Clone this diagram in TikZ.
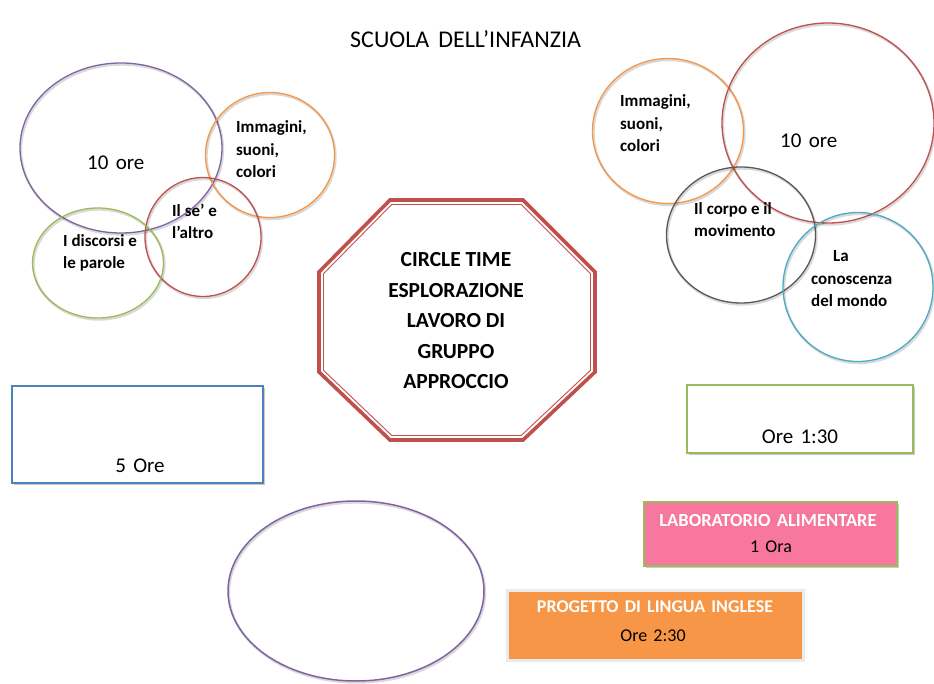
\documentclass[tikz,border=0pt]{standalone}
\usepackage{fontspec}
\setmainfont{Carlito}
\usetikzlibrary{shapes.geometric,shadows}
\definecolor{opurple}{HTML}{8064A2}
\definecolor{oorange}{HTML}{F79646}
\definecolor{ored}{HTML}{C0504D}
\definecolor{ogreen}{HTML}{9BBB59}
\definecolor{ogray}{HTML}{595959}
\definecolor{oteal}{HTML}{4BACC6}
\definecolor{oblue}{HTML}{4F81BD}
\definecolor{opink}{RGB}{247,119,159}
\tikzset{
  ring/.style={ellipse, draw, line width=1.3pt, inner sep=0pt, outer sep=0pt,
    preaction={draw=black, opacity=0.15, line width=2.4pt, transform canvas={xshift=1pt,yshift=-1.5pt}}},
  lbl/.style={font=\bfseries\fontsize{17}{22.8}\selectfont, align=left, anchor=base west, inner sep=0pt},
  hours/.style={font=\fontsize{21}{25}\selectfont, anchor=base west, inner sep=0pt},
  boxtxt/.style={font=\fontsize{21}{25}\selectfont, inner sep=0pt},
  smalltxt/.style={font=\fontsize{18}{22}\selectfont, inner sep=0pt},
  wtitle/.style={font=\bfseries\fontsize{18.5}{22}\selectfont, text=white, inner sep=0pt},
  card/.style={draw, line width=1.2pt, inner sep=0pt, outer sep=0pt,
    drop shadow={shadow xshift=1.5pt, shadow yshift=-2pt, opacity=0.35, fill=black!60}},
  octline/.style={draw=ored, line join=miter}
}
\begin{document}
\begin{tikzpicture}[x=1pt,y=-1pt]
\useasboundingbox (0,0) rectangle (934,684);
\fill[white] (0,0) rectangle (934,684);

% title
\node[font=\fontsize{24}{28}\selectfont, anchor=base west, inner sep=0pt] (title) at (350,48) {SCUOLA\hspace{0.15em} DELL’INFANZIA};

% left cluster
\node[ring, draw=opurple, minimum width=202pt, minimum height=170pt] (L1) at (121,148) {};
\node[ring, draw=oorange, minimum width=129pt, minimum height=125pt] (L2) at (270,155) {};
\node[ring, draw=ored, minimum width=116pt, minimum height=119pt] (L3) at (203,237) {};
\node[ring, draw=ogreen, minimum width=131pt, minimum height=110pt] (L4) at (98,263) {};
\node[hours] (L1t) at (87,170) {10\hspace{0.12em} ore};
\node[lbl] (L2t) at (236,178) {Immagini,\\suoni,\\colori};
\node[lbl] (L3t) at (172,239) {Il se’ e\\l’altro};
\node[lbl] (L4t) at (63,269) {I discorsi e\\le parole};

% right cluster
\node[ring, draw=oorange, minimum width=151pt, minimum height=145pt] (R1) at (668,131) {};
\node[ring, draw=ored, minimum width=212pt, minimum height=200pt] (R2) at (828,123) {};
\node[ring, draw=ogray, minimum width=149pt, minimum height=136pt] (R3) at (741,235) {};
\node[ring, draw=oteal, minimum width=150pt, minimum height=149pt] (R4) at (858,287) {};
\node[lbl] (R1t) at (620,152) {Immagini,\\suoni,\\colori};
\node[hours] (R2t) at (780,148) {10\hspace{0.12em} ore};
\node[lbl] (R3t) at (694,237) {Il corpo e il\\movimento};
\node[lbl] (R4t) at (811,307) {\hspace*{22pt}La\\conoscenza\\del mondo};

% octagon
\draw[octline, line width=3.6pt]
  (390,200) -- (523,200) -- (595,272) -- (595,372) -- (523,440) -- (390,440) -- (319,372) -- (319,272) -- cycle;
\draw[octline, line width=0.9pt]
  (391.7,204.5) -- (521.3,204.5) -- (590.5,273.7) -- (590.5,370.3) -- (521.2,435.5) -- (391.8,435.5) -- (323.5,370.3) -- (323.5,273.7) -- cycle;
\node[font=\bfseries\fontsize{21.5}{30.5}\selectfont, align=center, inner sep=0pt] (oct) at (456,321)
  {CIRCLE TIME\\ESPLORAZIONE\\LAVORO DI\\GRUPPO\\APPROCCIO};

% boxes
\node[card, draw=oblue, fill=white, minimum width=251pt, minimum height=97pt] (B1) at (137.5,434.5) {};
\node[boxtxt] (B1t) at (140,466) {5\hspace{0.12em} Ore};
\node[card, draw=ogreen, fill=white, minimum width=226pt, minimum height=68pt] (B2) at (800,419) {};
\node[boxtxt] (B2t) at (800,437) {Ore\hspace{0.12em} 1:30};
\node[card, draw=ogreen, fill=opink, minimum width=253pt, minimum height=64pt] (B3) at (770.5,534) {};
\node[wtitle] (B3t) at (768,520) {LABORATORIO\hspace{0.12em} ALIMENTARE};
\node[smalltxt] (B3u) at (771,547) {1\hspace{0.12em} Ora};
\node[card, draw=white!92!black, line width=3pt, fill=oorange, minimum width=296pt, minimum height=70pt] (B4) at (655,625) {};
\node[wtitle, font=\bfseries\fontsize{18}{22}\selectfont] (B4t) at (655,607) {PROGETTO\hspace{0.12em} DI\hspace{0.12em} LINGUA\hspace{0.12em} INGLESE};
\node[smalltxt] (B4u) at (653,636) {Ore\hspace{0.12em} 2:30};

% empty ellipse
\node[ring, draw=opurple, line width=1.5pt, minimum width=256pt, minimum height=180pt] (E1) at (356,591) {};
\end{tikzpicture}
\end{document}
